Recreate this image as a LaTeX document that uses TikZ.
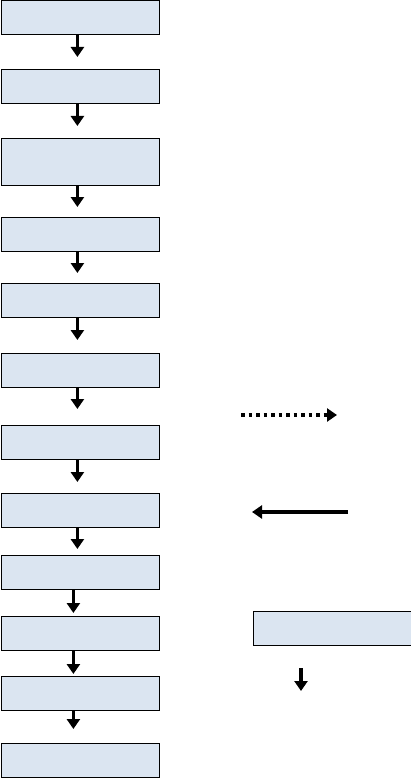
\documentclass[tikz,border=0pt]{standalone}
\usepackage{xcolor}
\usetikzlibrary{
  arrows.meta,
  positioning
}
\definecolor{boxblue}{RGB}{219,229,241}

\begin{document}
\begin{tikzpicture}[x=1pt, y=-1pt,
    stepbox/.style = {shape=rectangle, draw, line width=0.8pt,
      fill=boxblue, anchor=north west, inner sep=0pt,
      minimum width=158pt, minimum height=34pt},
    flow/.style = {line width=3.5pt,
      -{Triangle[width=13pt,length=10pt]}},
    dotflow/.style = {flow, dash pattern=on 3.5pt off 4pt}]
  \useasboundingbox (0,0) rectangle (411,778);
  % left column
  \node[stepbox] (s1) at (1,0) {};
  \node[stepbox] (s2) at (1,69) {};
  \node[stepbox, minimum height=47pt] (s3) at (1,138) {};
  \node[stepbox] (s4) at (1,217) {};
  \node[stepbox] (s5) at (1,283) {};
  \node[stepbox] (s6) at (1,353) {};
  \node[stepbox] (s7) at (1,425) {};
  \node[stepbox] (s8) at (1,493) {};
  \node[stepbox] (s9) at (1,555) {};
  \node[stepbox] (s10) at (1,616) {};
  \node[stepbox] (s11) at (1,676) {};
  \node[stepbox] (s12) at (1,743) {};
  % arrows between steps
  \foreach \a/\b/\dx/\gap in {s1/s2/-3/12, s2/s3/-3/12, s3/s4/-3/10,
      s4/s5/-3/10, s5/s6/-3/13, s6/s7/-3/16, s7/s8/-3/11, s8/s9/-3/6,
      s9/s10/-7/3, s10/s11/-7/2, s11/s12/-7/14}
    \draw[flow, shorten >=\gap pt] ([xshift=\dx pt]\a.south)
      -- ([xshift=\dx pt]\b.north);
  % legend
  \coordinate (dotA) at (241,415);
  \coordinate (dotB) at (337,415);
  \draw[dotflow] (dotA) -- (dotB);
  \coordinate (solA) at (348,512);
  \coordinate (solB) at (252,512);
  \draw[flow] (solA) -- (solB);
  \node[stepbox] (key) at (253,611) {};
  \coordinate (keyA) at (301,668);
  \coordinate (keyB) at (301,691);
  \draw[flow] (keyA) -- (keyB);
\end{tikzpicture}
\end{document}
